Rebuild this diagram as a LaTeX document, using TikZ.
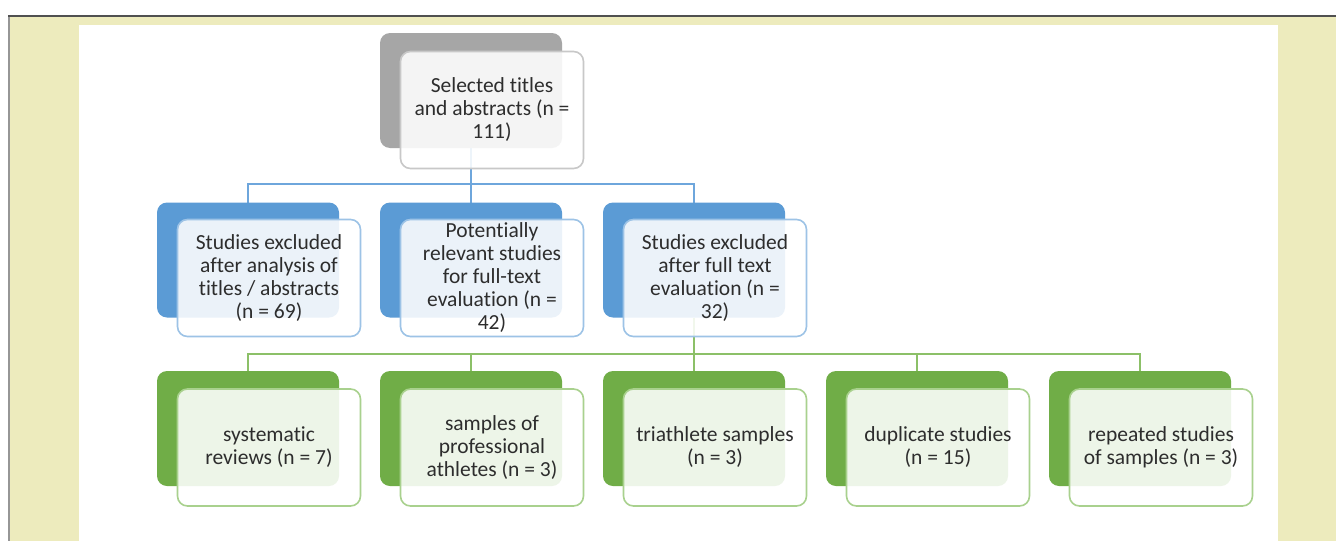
\documentclass[tikz,border=0pt]{standalone}
\usepackage{fontspec}
\setmainfont{Carlito}[Ligatures=NoCommon]
\pgfdeclarelayer{pagebg}
\pgfdeclarelayer{lines}
\pgfsetlayers{pagebg,lines,main}
\definecolor{ybg}{RGB}{237,235,189}
\definecolor{edgedark}{RGB}{80,80,80}
\definecolor{edgegray}{RGB}{150,150,150}
\definecolor{grayback}{RGB}{166,166,166}
\definecolor{grayedge}{RGB}{200,200,200}
\definecolor{blueback}{RGB}{91,155,213}
\definecolor{blueedge}{RGB}{157,195,230}
\definecolor{blueline}{RGB}{110,166,220}
\definecolor{greenback}{RGB}{112,173,71}
\definecolor{greenedge}{RGB}{169,209,142}
\definecolor{greenline}{RGB}{140,192,104}
\definecolor{txt}{RGB}{45,45,45}
\tikzset{
  backbox/.style={rectangle, rounded corners=10pt, minimum width=182pt, minimum height=115pt, inner sep=0pt, outer sep=0pt, fill=#1},
  frontbox/.style={rectangle, rounded corners=10pt, minimum width=183pt, minimum height=117pt, inner sep=0pt, outer sep=0pt, draw=#1, line width=1.6pt, fill=white, fill opacity=0.88, text opacity=1, align=center, text=txt, font=\fontsize{21.5}{23}\selectfont},
  con/.style={line width=2pt, draw=#1}
}
\begin{document}
\begin{tikzpicture}[x=1pt,y=-1pt]
\useasboundingbox (0,0) rectangle (1336,541);
\begin{pgfonlayer}{pagebg}
  \fill[white] (0,0) rectangle (1336,541);
  \fill[ybg] (9,16) rectangle (1336,541);
  \fill[white] (79,25) rectangle (1278,541);
  \draw[edgegray, line width=1.2pt] (9,16) -- (9,541);
  \draw[edgedark, line width=1.2pt] (8,16) -- (1336,16);
\end{pgfonlayer}

% top
\node[backbox=grayback] (tb) at (471,90.5) {};
\node[frontbox=grayedge] (tf) at (492,110) {Selected titles\\and abstracts (n =\\111)};

% second row
\node[backbox=blueback] (b1) at (248,260) {};
\node[frontbox=blueedge] (f1) at (269,278) {Studies excluded\\after analysis of\\titles / abstracts\\(n = 69)};
\node[backbox=blueback] (b2) at (471,260) {};
\node[frontbox=blueedge] (f2) at (492,278) {Potentially\\relevant studies\\for full-text\\evaluation (n =\\42)};
\node[backbox=blueback] (b3) at (694,260) {};
\node[frontbox=blueedge] (f3) at (715,278) {Studies excluded\\after full text\\evaluation (n =\\32)};

% third row
\node[backbox=greenback] (c1) at (248,428.5) {};
\node[frontbox=greenedge] (g1) at (269,447.5) {systematic\\reviews (n = 7)};
\node[backbox=greenback] (c2) at (471,428.5) {};
\node[frontbox=greenedge] (g2) at (492,447.5) {samples of\\professional\\athletes (n = 3)};
\node[backbox=greenback] (c3) at (694,428.5) {};
\node[frontbox=greenedge] (g3) at (715,447.5) {triathlete samples\\(n = 3)};
\node[backbox=greenback] (c4) at (917,428.5) {};
\node[frontbox=greenedge] (g4) at (938,447.5) {duplicate studies\\(n = 15)};
\node[backbox=greenback] (c5) at (1140,428.5) {};
\node[frontbox=greenedge] (g5) at (1161,447.5) {repeated studies\\of samples (n = 3)};

\begin{pgfonlayer}{lines}
  \foreach \c in {b1,b2,b3}
    \draw[con=blueline] (tb.south) -- ++(0,36) -| (\c.north);
  \foreach \c in {c1,c2,c3,c4,c5}
    \draw[con=greenline] (b3.south) -- ++(0,36) -| (\c.north);
\end{pgfonlayer}
\end{tikzpicture}
\end{document}
